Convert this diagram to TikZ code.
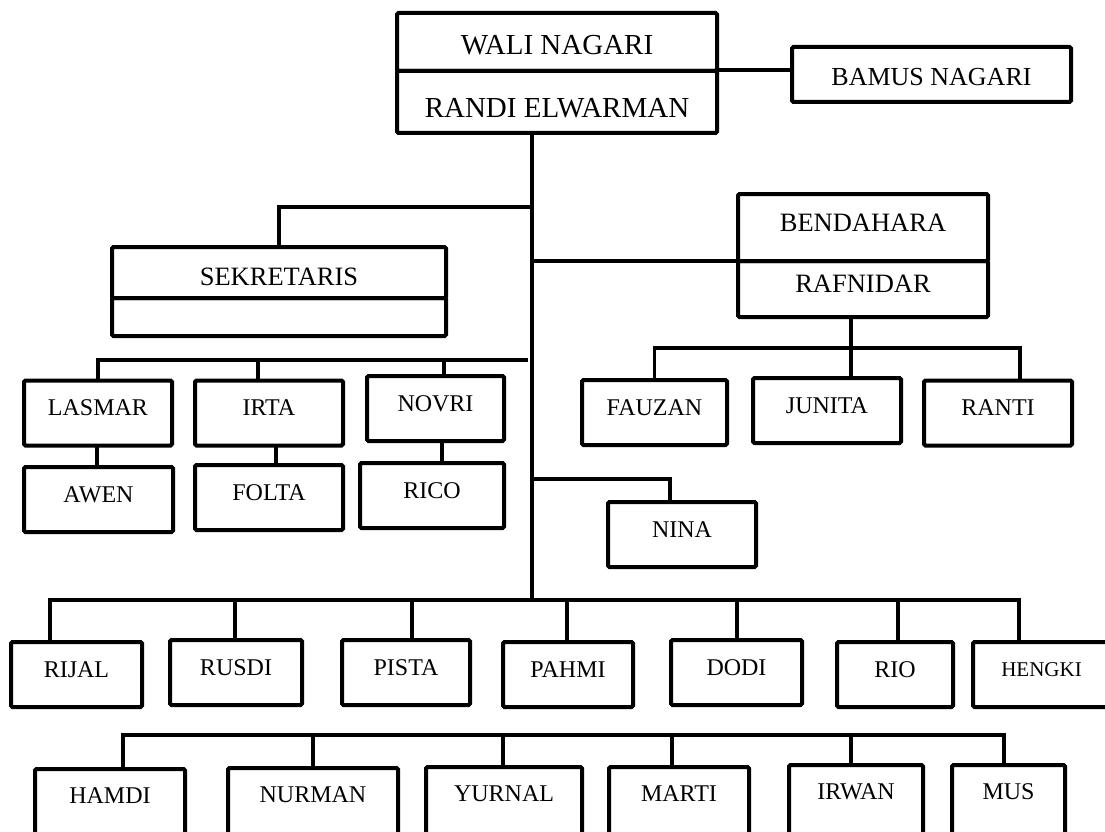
\documentclass[tikz,border=0pt]{standalone}
\usepackage{fontspec}
\setmainfont{Liberation Serif}

\begin{document}
\begin{tikzpicture}[x=1pt,y=-1pt,
    box/.style={draw,line width=4pt,rounded corners=1.5pt,inner sep=0pt,outer sep=0pt},
    staff/.style={box,font=\fontsize{24}{28}\selectfont,minimum height=65pt,text depth=10pt},
    lowstaff/.style={staff,minimum height=73pt,text depth=20pt},
    link/.style={line width=3.3pt}]
    \useasboundingbox (0,0) rectangle (1105,832);
    % pimpinan
    \node[box,minimum width=320pt,minimum height=58pt,font=\fontsize{29}{34}\selectfont,text height=25pt] (walititle) at (557,42) {WALI NAGARI};
    \node[box,minimum width=320pt,minimum height=62pt,font=\fontsize{29}{34}\selectfont,text height=31pt] (waliname) at (557,102) {RANDI ELWARMAN};
    \node[box,minimum width=279pt,minimum height=55pt,font=\fontsize{26}{30}\selectfont,text height=22pt] (bamus) at (931.5,74.5) {BAMUS NAGARI};
    \node[box,minimum width=334pt,minimum height=51pt,font=\fontsize{26.5}{30}\selectfont,text height=26.4pt] (sektitle) at (279,272.5) {SEKRETARIS};
    \node[box,minimum width=334pt,minimum height=38pt] (sekname) at (279,317) {};
    \node[box,minimum width=250pt,minimum height=67pt,font=\fontsize{26.5}{30}\selectfont,text depth=9pt] (bentitle) at (863,227.5) {BENDAHARA};
    \node[box,minimum width=250pt,minimum height=56pt,font=\fontsize{26.5}{30}\selectfont,text depth=10pt] (benname) at (863,289) {RAFNIDAR};
    % staf
    \node[staff,minimum width=148pt] (lasmar) at (98,413) {LASMAR};
    \node[staff,minimum width=148pt] (irta) at (269,413) {IRTA};
    \node[staff,minimum width=137pt] (novri) at (435.5,408.5) {NOVRI};
    \node[staff,minimum width=149pt] (awen) at (98.5,499.5) {AWEN};
    \node[staff,minimum width=148pt] (folta) at (269,497.5) {FOLTA};
    \node[staff,minimum width=144pt] (rico) at (432,495.5) {RICO};
    \node[staff,minimum width=145pt] (fauzan) at (654.5,412.5) {FAUZAN};
    \node[staff,minimum width=148pt] (junita) at (827,410.5) {JUNITA};
    \node[staff,minimum width=148pt] (ranti) at (998,413) {RANTI};
    \node[staff,minimum width=148pt] (nina) at (682,534.5) {NINA};
    % baris 1
    \node[staff,minimum width=131pt] (rijal) at (76.5,674.5) {RIJAL};
    \node[staff,minimum width=132pt] (rusdi) at (236,672.5) {RUSDI};
    \node[staff,minimum width=128pt] (pista) at (406,672.5) {PISTA};
    \node[staff,minimum width=130pt] (pahmi) at (568,674.5) {PAHMI};
    \node[staff,minimum width=131pt] (dodi) at (736.5,672.5) {DODI};
    \node[staff,minimum width=116pt] (rio) at (895,674.5) {RIO};
    \node[staff,minimum width=137pt,font=\fontsize{21}{25}\selectfont] (hengki) at (1041.5,674.5) {HENGKI};
    % baris 2
    \node[lowstaff,minimum width=150pt] (hamdi) at (110,805.5) {HAMDI};
    \node[lowstaff,minimum width=170pt] (nurman) at (313,804.5) {NURMAN};
    \node[lowstaff,minimum width=156pt] (yurnal) at (504,803.5) {YURNAL};
    \node[lowstaff,minimum width=140pt] (marti) at (679,803.5) {MARTI};
    \node[lowstaff,minimum width=134pt] (irwan) at (856,801.5) {IRWAN};
    \node[lowstaff,minimum width=113pt] (mus) at (1008.5,801.5) {MUS};
    % garis
    \coordinate (trunk) at (532,600);
    \coordinate (sekjoin) at (532,207);
    \coordinate (benjoin) at (532,261);
    \coordinate (ninajoin) at (532,479);
    \coordinate (bamusjoin) at (717,70);
    \coordinate (benbus) at (851,348);
    \coordinate (subbus) at (528,360);
    \coordinate (row1) at (1019,600);
    \coordinate (row2) at (1004,735);
    \draw[link] (waliname.south -| trunk) -- (trunk);
    \draw[link] (bamusjoin) -- (bamusjoin -| bamus.west);
    \draw[link] (sekjoin) -| (sektitle.north);
    \draw[link] (benjoin) -- (benjoin -| bentitle.west);
    \draw[link] (ninajoin) -| (nina.north -| 670,0);
    \draw[link] (benname.south -| benbus) -- (benbus);
    \draw[link] (fauzan.north) |- (benbus) -| (ranti.north -| 1020,0);
    \draw[link] (benbus) -- (junita.north -| benbus);
    \draw[link] (lasmar.north) |- (subbus);
    \foreach \n/\x in {irta/258, novri/444}
        \draw[link] (\n.north -| \x,0) |- (subbus);
    \foreach \a/\b/\x in {lasmar/awen/97, irta/folta/276, novri/rico/442}
        \draw[link] (\a.south -| \x,0) -- (\b.north -| \x,0);
    \draw[link] (rijal.north -| 50,0) |- (row1) -- (hengki.north -| row1);
    \foreach \n/\x in {rusdi/235, pista/412, pahmi/567, dodi/737, rio/898}
        \draw[link] (\n.north -| \x,0) |- (row1);
    \draw[link] (hamdi.north -| 123,0) |- (row2) -- (mus.north -| row2);
    \foreach \n/\x in {nurman/313, yurnal/503, marti/672, irwan/851}
        \draw[link] (\n.north -| \x,0) |- (row2);
\end{tikzpicture}
\end{document}
